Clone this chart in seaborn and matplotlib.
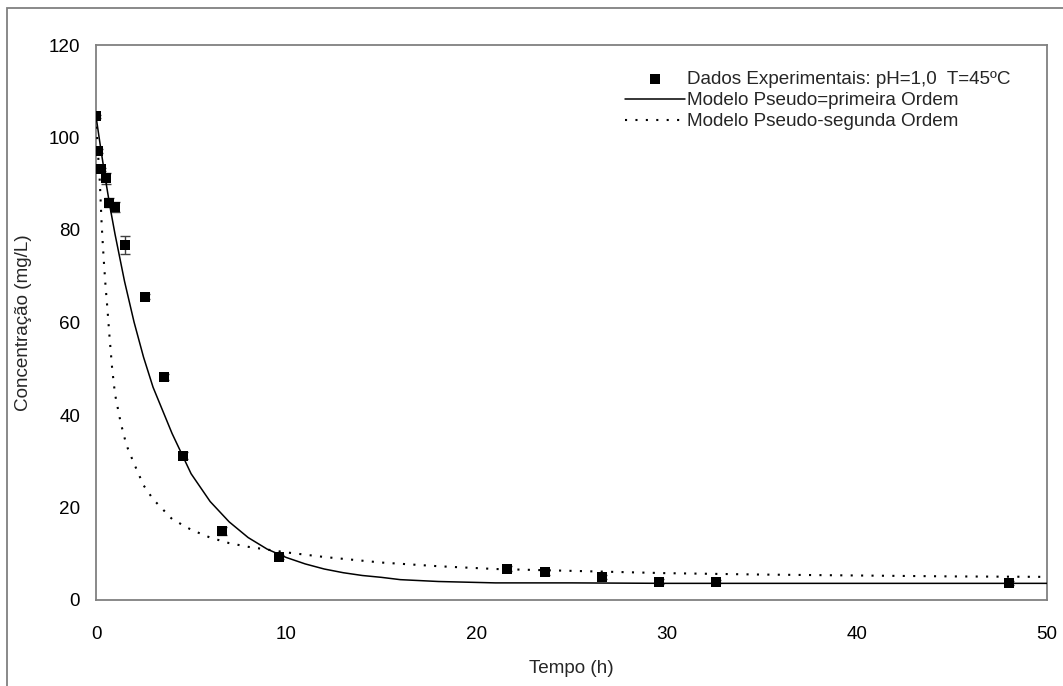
import numpy as np
import pandas as pd
import matplotlib
matplotlib.use("Agg")
import matplotlib.pyplot as plt
import matplotlib.patches as patches
import seaborn as sns

# experimental data
tempo = [0, 0.1, 0.25, 0.5, 0.67, 1.0, 1.55, 2.55, 3.55, 4.55, 6.6, 9.6, 21.6, 23.6, 26.6, 29.6, 32.6, 48.0]
conc = [104.6, 97.1, 93.1, 91.2, 85.9, 84.9, 76.8, 65.6, 48.2, 31.2, 14.9, 9.3, 6.8, 6.0, 5.0, 4.0, 4.0, 3.7]
erro = [0.3, 0.5, 0.4, 1.2, 1.0, 1.1, 2.0, 0.5, 0.6, 0.8, 0.8, 0.5, 0.5, 0.5, 0.5, 0.6, 0.4, 0.4]

# pseudo-first order model
t_pfo = [0, 0.25, 0.5, 0.75, 1, 1.5, 2, 2.5, 3, 4, 5, 6, 7, 8, 9, 10, 11, 12, 13, 14, 15, 16, 18, 20, 21, 25, 30, 35, 40, 45, 50]
c_pfo = [104.6, 97.6, 90.9, 84.7, 79.1, 68.9, 60.1, 52.5, 46.0, 36.0, 27.3, 21.3, 16.9, 13.5, 11.0, 9.2, 7.8, 6.7, 5.9,
         5.3, 4.9, 4.4, 4.0, 3.8, 3.7, 3.7, 3.6, 3.6, 3.6, 3.6, 3.6]

# pseudo-second order model
t_pso = [0, 0.1, 0.2, 0.3, 0.4, 0.5, 0.6, 0.7, 0.85, 1.0, 1.3, 1.6, 2.0, 2.5, 3, 4, 5, 6, 7, 8, 9, 10, 12, 15, 18, 21,
         25, 30, 35, 40, 45, 50]
c_pso = [104.6, 97.0, 90.5, 81.0, 74.0, 68.0, 63.0, 57.5, 50.0, 44.5, 38.3, 33.5, 29.5, 24.8, 21.8, 17.5, 15.2, 13.5,
         12.3, 11.5, 10.9, 10.3, 9.3, 8.1, 7.3, 6.7, 6.3, 5.8, 5.5, 5.3, 5.1, 5.0]

sns.set_style("white")
plt.rcParams['font.family'] = ['Liberation Sans', 'DejaVu Sans']
fs = 13.6

fig = plt.figure(figsize=(10.63, 6.86), dpi=100)
ax = fig.add_axes([96 / 1063, 86 / 686, 951 / 1063, 555 / 686])

ax.errorbar(tempo, conc, yerr=erro, fmt="none", ecolor="#404040", elinewidth=1.0, capsize=3.5, capthick=1.0, zorder=2)
sns.scatterplot(x=tempo, y=conc, marker="s", s=60, color="black", edgecolor="black", linewidth=0,
                label="Dados Experimentais: pH=1,0  T=45ºC", ax=ax, zorder=4)
sns.lineplot(x=t_pfo, y=c_pfo, color="black", linewidth=1.1, label="Modelo Pseudo=primeira Ordem", ax=ax,
             sort=False, zorder=3)
sns.lineplot(x=t_pso, y=c_pso, color="black", linewidth=1.5, linestyle=(0, (1, 4)),
             label="Modelo Pseudo-segunda Ordem", ax=ax, sort=False, zorder=3)
for ln in ax.get_lines():
    ln.set_dash_capstyle("butt")

ax.set_xlim(0, 50)
ax.set_ylim(0, 120)
ax.set_xticks([0, 10, 20, 30, 40, 50])
ax.set_yticks([0, 20, 40, 60, 80, 100, 120])
ax.tick_params(axis="both", length=0, labelsize=fs, colors="black")
ax.tick_params(axis="y", pad=11.5)
ax.tick_params(axis="x", pad=19)
for sp in ax.spines.values():
    sp.set_color("#808080")
    sp.set_linewidth(1.3)

ax.set_xlabel("Tempo (h)", fontsize=fs, labelpad=12)
ax.set_ylabel("Concentração (mg/L)", fontsize=fs, labelpad=12)

handles, labels = ax.get_legend_handles_labels()
ax.legend(handles, labels, loc="upper left", bbox_to_anchor=(0.556, 0.953), frameon=False, fontsize=fs,
          handlelength=3.2, handletextpad=0.1, labelspacing=0.2, borderpad=0, borderaxespad=0)

fig.patches.append(patches.Rectangle((7 / 1063, -0.05), 1.1, 1 - 8 / 686 + 0.05, transform=fig.transFigure,
                                     fill=False, edgecolor="#808080", linewidth=1.3))

fig.savefig("out.png", dpi=100)
